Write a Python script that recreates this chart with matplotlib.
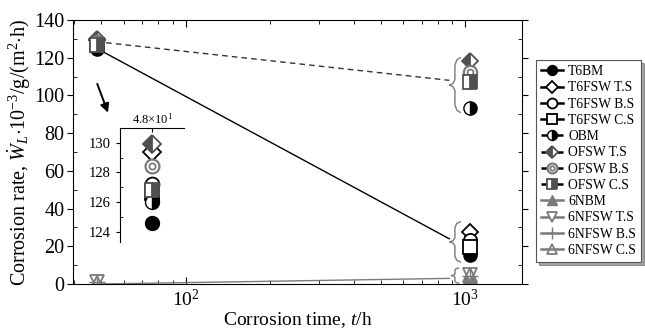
import matplotlib
matplotlib.use("Agg")
import matplotlib.pyplot as plt
import matplotlib.transforms as mtransforms
from matplotlib.legend_handler import HandlerTuple
from matplotlib.ticker import LogFormatterMathtext, MultipleLocator, FixedLocator
import numpy as np

plt.rcParams['font.family'] = ['Liberation Serif', 'DejaVu Serif']
plt.rcParams['mathtext.fontset'] = 'custom'
plt.rcParams['mathtext.rm'] = 'Liberation Serif'
plt.rcParams['mathtext.it'] = 'Liberation Serif:italic'
plt.rcParams['mathtext.bf'] = 'Liberation Serif:bold'

# corrosion time [h]
times = [48, 1040]

# corrosion rate, 10^-3 g/(m^2 h)
t6bm = [124.6, 15.5]
t6fsw_ts = [129.4, 27.5]
t6fsw_bs = [127.2, 23.5]
t6fsw_cs = [126.6, 19.5]
obm = [126.0, 93.3]
ofsw_ts = [129.9, 118.0]
ofsw_bs = [128.4, 112.6]
ofsw_cs = [126.8, 107.0]
n6bm = [1.0, 3.8]
n6fsw_ts = [1.2, 4.6]
n6fsw_bs = [1.0, 4.2]
n6fsw_cs = [0.8, 4.9]

# trend lines (start value at 48 h, end value at brace)
trend_t = [48, 880]
t6_trend = [125.0, 24.0]
o_trend = [128.5, 108.0]
n6_trend = [0.0, 3.0]

GRAY = '#7a7a7a'
DGRAY = '#505050'


def draw_series(ax, xs, ms=9.5):
    h1, = ax.plot(xs, t6bm, 'o', ms=ms, mfc='k', mec='k', ls='none')
    h2, = ax.plot(xs, t6fsw_ts, 'D', ms=ms * 0.9, mfc='w', mec='k', mew=1.3, ls='none')
    h3, = ax.plot(xs, t6fsw_bs, 'o', ms=ms, mfc='w', mec='k', mew=1.3, ls='none')
    h4, = ax.plot(xs, t6fsw_cs, 's', ms=ms, mfc='w', mec='k', mew=1.3, ls='none')
    h5, = ax.plot(xs, obm, 'o', ms=ms, fillstyle='right', mfc='k', mfcalt='w', mec='k', mew=1.0, ls='none')
    h6, = ax.plot(xs, ofsw_ts, 'D', ms=ms * 0.9, fillstyle='left', mfc=DGRAY, mfcalt='w', mec=DGRAY, mew=1.3, ls='none')
    h7a, = ax.plot(xs, ofsw_bs, 'o', ms=ms, mfc='w', mec=GRAY, mew=1.6, ls='none')
    h7b, = ax.plot(xs, ofsw_bs, 'o', ms=ms * 0.45, mfc='w', mec=GRAY, mew=1.3, ls='none')
    h8, = ax.plot(xs, ofsw_cs, 's', ms=ms, fillstyle='right', mfc=DGRAY, mfcalt='w', mec=DGRAY, mew=1.3, ls='none')
    h9, = ax.plot(xs, n6bm, '^', ms=ms, mfc=GRAY, mec=GRAY, ls='none')
    h10, = ax.plot(xs, n6fsw_ts, 'v', ms=ms, mfc='w', mec=GRAY, mew=1.3, ls='none')
    h11, = ax.plot(xs, n6fsw_bs, '+', ms=ms * 1.2, mec=GRAY, mew=1.0, ls='none')
    h12, = ax.plot(xs, n6fsw_cs, '^', ms=ms, mfc='none', mec=GRAY, mew=1.3, ls='none')
    return [h1, h2, h3, h4, h5, h6, (h7a, h7b), h8, h9, h10, h11, h12]


def brace(ax, xf, y0, y1, w=0.012, color=GRAY):
    tr = mtransforms.blended_transform_factory(ax.transAxes, ax.transData)
    h = y1 - y0
    mid = (y0 + y1) / 2
    xs = [xf + w, xf + 0.35 * w, xf, xf, xf - 0.35 * w, xf - w,
          xf - 0.35 * w, xf, xf, xf + 0.35 * w, xf + w]
    ys = [y1, y1 - 0.04 * h, y1 - 0.14 * h, mid + 0.1 * h, mid + 0.03 * h, mid,
          mid - 0.03 * h, mid - 0.1 * h, y0 + 0.14 * h, y0 + 0.04 * h, y0]
    ax.plot(xs, ys, color=color, lw=1.0, transform=tr, clip_on=False)


fig = plt.figure(figsize=(6.45, 3.33), dpi=100)
ax = fig.add_axes([0.113, 0.147, 0.696, 0.793])

ax.plot(trend_t, t6_trend, '-', color='k', lw=1.0)
ax.plot(trend_t, o_trend, '--', color='#333333', lw=1.0, dashes=(4, 3))
ax.plot(trend_t, n6_trend, '-', color=GRAY, lw=1.0)

handles = draw_series(ax, times)

ax.set_xscale('log')
ax.set_xlim(39.5, 1600)
ax.set_ylim(0, 140)
ax.yaxis.set_major_locator(MultipleLocator(20))
ax.yaxis.set_minor_locator(MultipleLocator(10))
ax.xaxis.set_major_formatter(LogFormatterMathtext())
ax.tick_params(axis='y', which='major', direction='out', length=4, labelsize=14.5, right=True, pad=2)
ax.tick_params(axis='y', which='minor', direction='in', length=3, right=True)
ax.tick_params(axis='x', which='both', direction='in', top=True, labelsize=14)
ax.tick_params(axis='x', which='major', length=5)
ax.tick_params(axis='x', which='minor', length=3)

ax.set_xlabel('Corrosion time, $\\mathit{t}$/h', fontsize=14, labelpad=0)
ax.set_ylabel('Corrosion rate, $\\dot{\\mathit{W}}_{L}$$\\cdot$10$^{-3}$/g/(m$^{2}$$\\cdot$h)',
              fontsize=14.5, labelpad=1)

brace(ax, 0.851, 91, 120)
brace(ax, 0.851, 11.7, 33)
brace(ax, 0.851, 0.5, 8.5, w=0.008)

ax.annotate('', xy=(53.2, 89.5), xytext=(47.9, 107.5),
            arrowprops=dict(arrowstyle='-|>', color='k', lw=1.4, mutation_scale=13))

# inset
axin = fig.add_axes([0.186, 0.273, 0.10, 0.343])
draw_series(axin, [48, 48], ms=10)
axin.set_xlim(46, 50)
axin.set_ylim(123.3, 131.0)
for s in ['right', 'bottom']:
    axin.spines[s].set_visible(False)
axin.patch.set_alpha(0)
axin.yaxis.set_major_locator(FixedLocator([124, 126, 128, 130]))
axin.yaxis.set_minor_locator(FixedLocator([125, 127, 129]))
axin.xaxis.set_major_locator(FixedLocator([48]))
axin.xaxis.set_minor_locator(FixedLocator([]))
axin.set_xticklabels(['4.8$\\times$10$^{1}$'])
axin.tick_params(axis='x', which='both', bottom=False, top=True, labelbottom=False,
                 labeltop=True, direction='in', labelsize=9, length=3, pad=1)
axin.tick_params(axis='y', which='major', direction='out', labelsize=10.5, length=3)
axin.tick_params(axis='y', which='minor', direction='in', length=2)

labels = ['T6BM', 'T6FSW T.S', 'T6FSW B.S', 'T6FSW C.S', 'OBM', 'OFSW T.S',
          'OFSW B.S', 'OFSW C.S', '6NBM', '6NFSW T.S', '6NFSW B.S', '6NFSW C.S']

# legend handles with connecting line
leg_handles = []
for i, h in enumerate(handles):
    if i < 4:
        ls, col = '-', 'k'
    elif i < 8:
        ls, col = '--', 'k'
    else:
        ls, col = '-', GRAY
    hs = h if isinstance(h, tuple) else (h,)
    new = []
    for j, hh in enumerate(hs):
        ln = matplotlib.lines.Line2D([], [], marker=hh.get_marker(), ms=hh.get_markersize() * 0.75,
                                     mfc=hh.get_markerfacecolor(), mec=hh.get_markeredgecolor(),
                                     mew=hh.get_markeredgewidth(), fillstyle=hh.get_fillstyle(),
                                     markerfacecoloralt=hh.get_markerfacecoloralt(),
                                     ls=ls if j == 0 else 'none', color=col, lw=1.8)
        new.append(ln)
    leg_handles.append(tuple(new))

leg = fig.legend(leg_handles, labels, loc='upper left', bbox_to_anchor=(0.827, 0.827),
                 fontsize=9.8, handlelength=1.6, handletextpad=0.4, labelspacing=0.24,
                 borderpad=0.35, borderaxespad=0.2, fancybox=False, shadow=True, frameon=True,
                 handler_map={tuple: HandlerTuple(ndivide=1)})
leg.get_frame().set_edgecolor('#555555')
leg.get_frame().set_linewidth(0.8)

fig.savefig('out.png', dpi=100)
